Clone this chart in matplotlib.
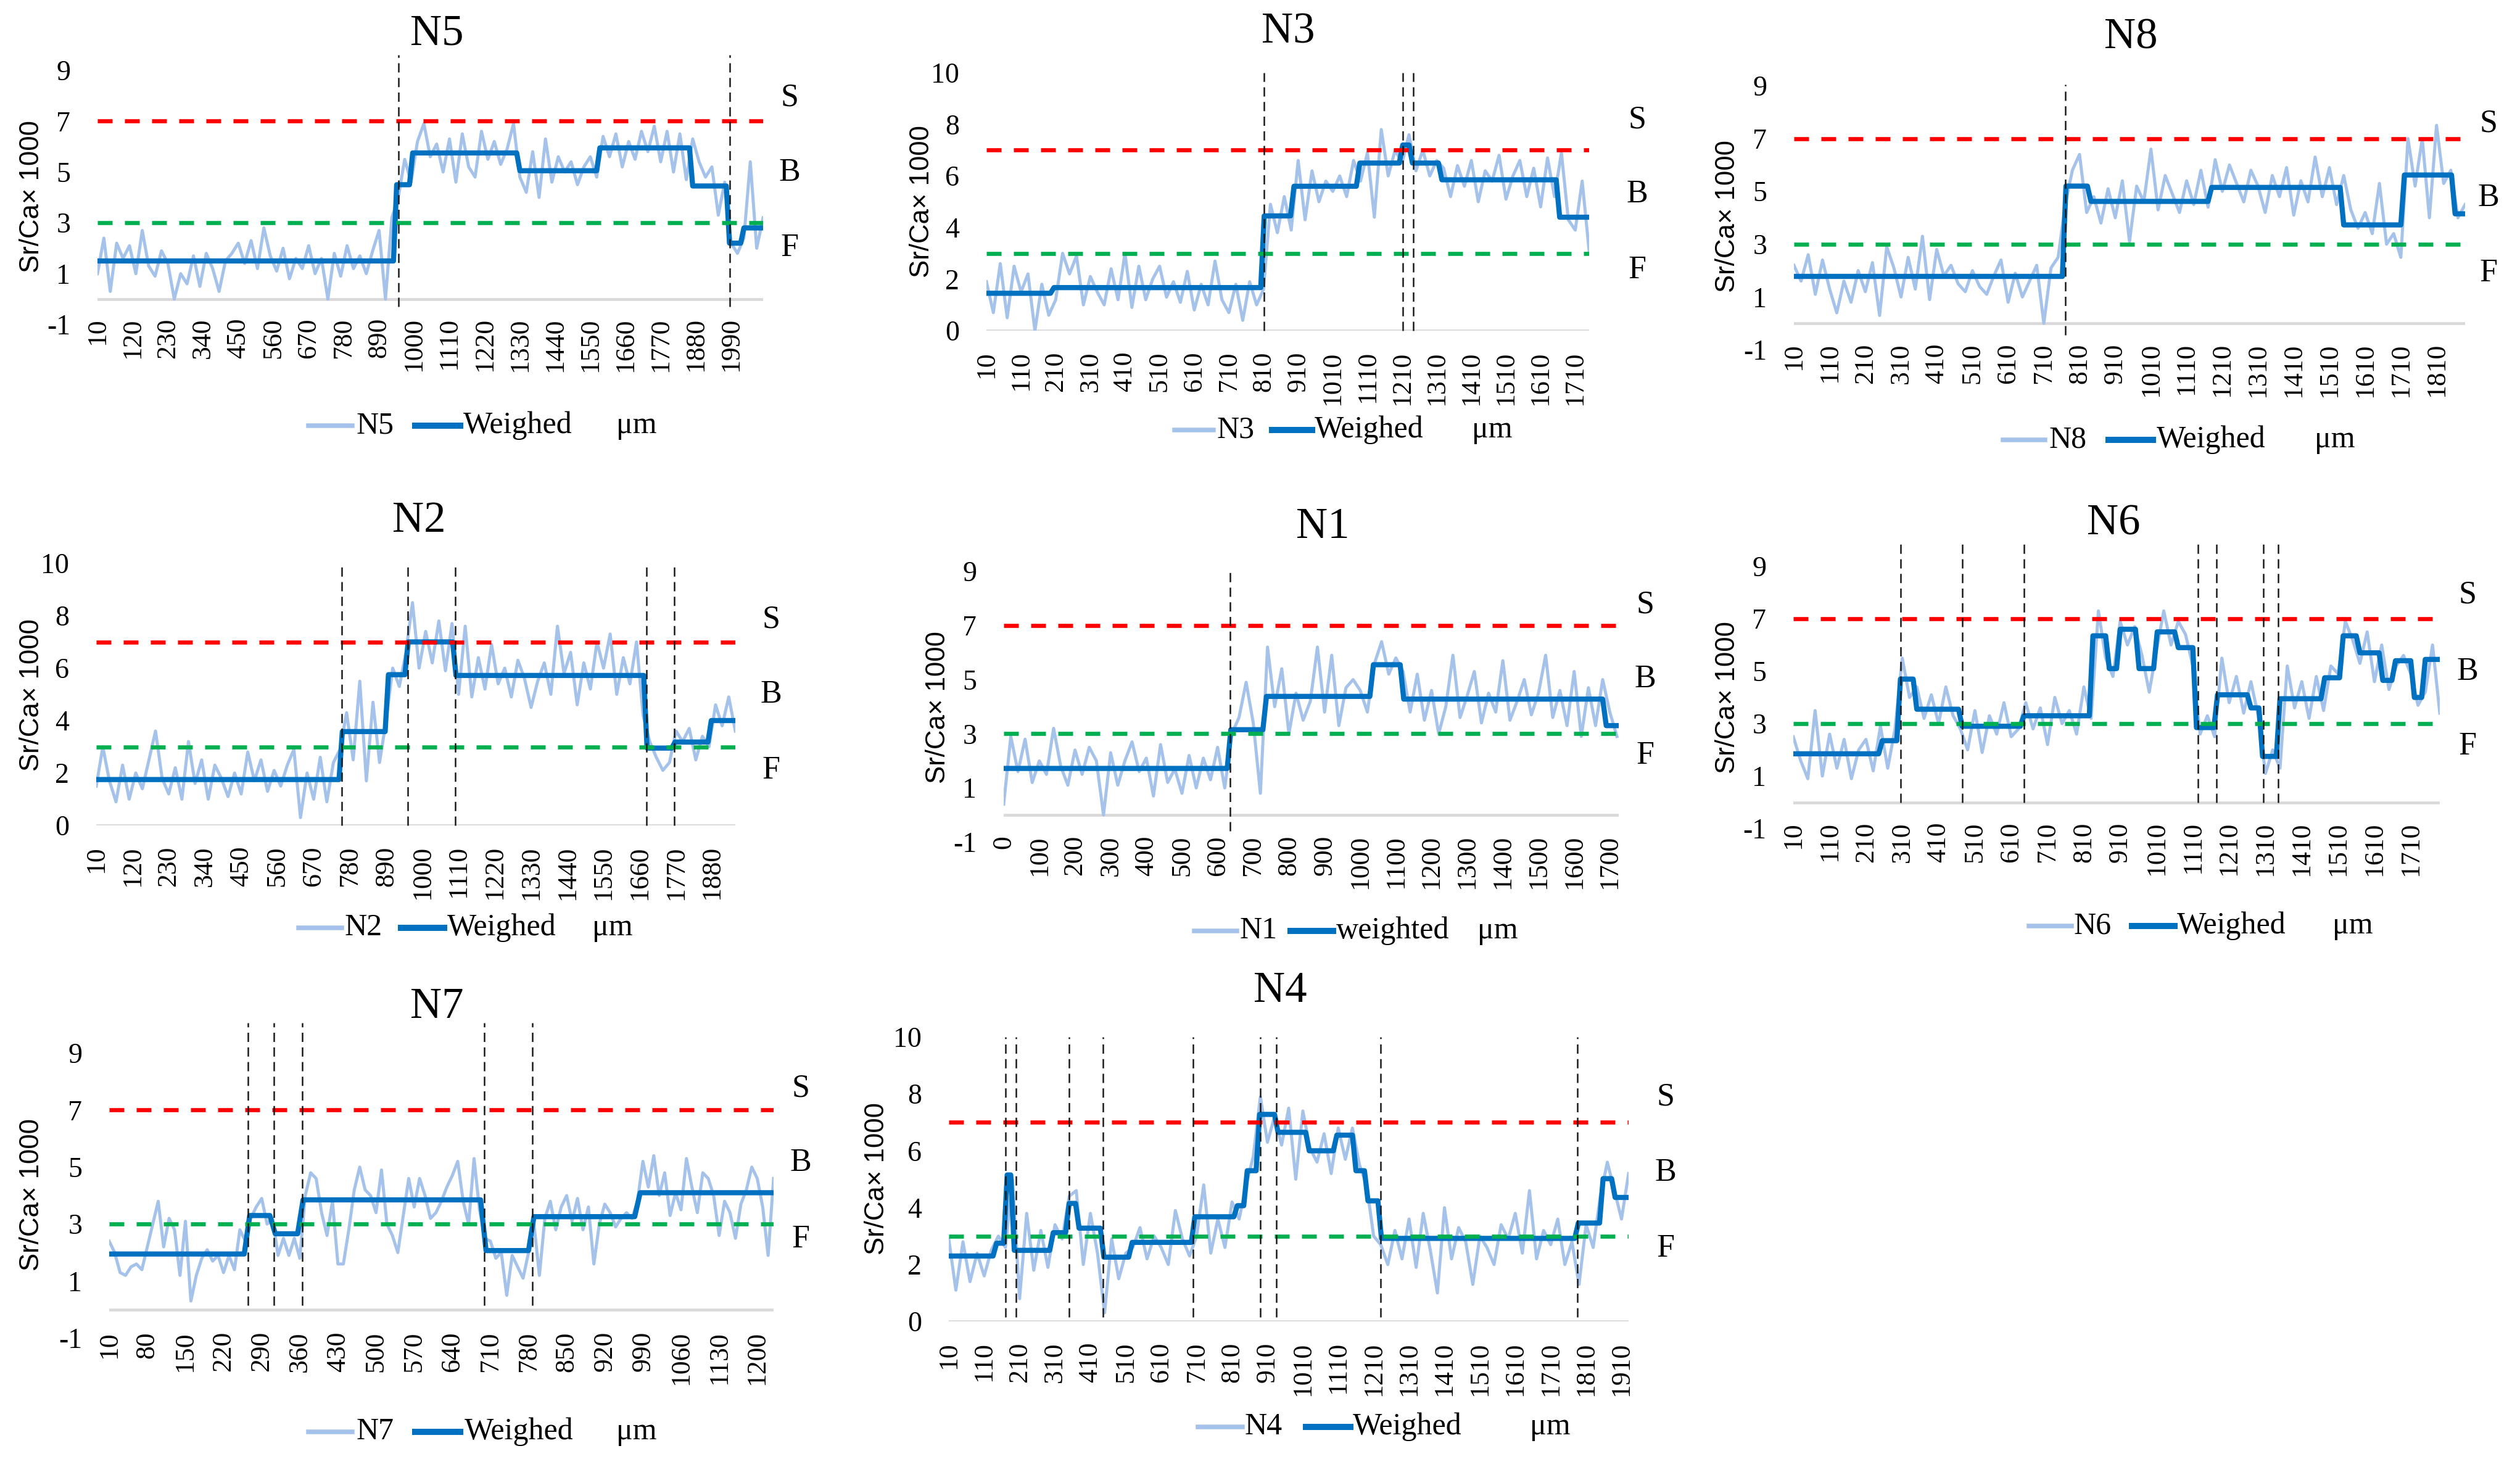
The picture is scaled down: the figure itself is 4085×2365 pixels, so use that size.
import numpy as np
import matplotlib
matplotlib.use("Agg")
import matplotlib.pyplot as plt
from matplotlib.lines import Line2D

W, H, DPI = 4086, 2365, 300
plt.rcParams['font.family'] = ['Liberation Serif', 'DejaVu Serif']

# ------------------------------------------------------------------ data
# raw Sr/Ca profiles, first position and spacing in um
n5_start, n5_step = 10, 20
n5_raw = [1.0, 2.4, 0.3, 2.2, 1.6, 2.1, 1.0, 2.7, 1.3, 0.9, 1.9, 1.4, 0.0, 1.0, 0.6, 1.7,
          0.5, 1.8, 1.2, 0.3, 1.5, 1.8, 2.2, 1.4, 2.3, 1.2, 2.8, 1.7, 1.1, 2.0, 0.8, 1.6,
          1.2, 2.1, 1.0, 1.6, 0.0, 1.8, 0.9, 2.1, 1.2, 1.7, 1.0, 1.9, 2.7, 0.0, 3.2,
          4.0, 5.5, 4.6, 6.2, 6.9, 5.6, 6.1, 5.0, 6.3, 4.6, 6.5, 5.2, 4.8, 6.6, 5.5, 6.2,
          5.3, 5.9, 6.9, 4.8,
          4.2, 5.8, 4.0, 6.3, 4.6, 5.6, 5.0, 5.4, 4.5, 5.2, 5.6, 4.8,
          6.4, 5.6, 6.5, 5.2, 6.2, 5.5, 6.6, 5.8, 6.8, 5.4, 6.6, 5.0, 6.5, 4.7, 6.3,
          5.4, 4.8, 5.2, 3.3, 4.6,
          2.2, 1.8, 2.4, 5.4, 2.0, 3.2]
n5_w_edges = [10, 945, 995, 1330, 1580, 1870, 1985, 2030]
n5_w_levels = [1.5, 4.5, 5.75, 5.05, 5.95, 4.45, 2.2, 2.8]
n5_end = 2090
n5_vlines = [950, 1985]
n5_xticks = list(range(10, 2000, 110))

n3_start, n3_step = 10, 20
n3_raw = [1.9, 0.7, 2.6, 0.5, 2.5, 1.5, 2.2, 0.0, 1.8, 0.6,
          1.2, 3.0, 2.2, 2.9, 1.0, 2.1, 1.5, 1.0, 2.4, 1.2, 3.0, 0.9, 2.5, 1.2, 2.0, 2.5,
          1.3, 1.9, 1.1, 2.3, 0.8, 1.8, 1.0, 2.7, 1.2, 0.7, 1.8, 0.4, 1.9, 1.0, 1.6,
          4.9, 3.8, 5.2, 3.9,
          6.6, 4.3, 6.2, 5.0, 5.8, 5.4, 6.0, 5.2, 6.6, 5.8,
          6.9, 4.4, 7.8, 6.0, 7.0, 6.5,
          7.6,
          6.2, 7.0, 6.0, 6.6, 6.3,
          5.2, 6.4, 5.6, 6.6, 5.0, 6.2, 5.8, 6.8, 5.1, 6.0, 6.6, 5.2, 6.3, 4.8, 6.7, 5.2, 6.9,
          4.3, 3.9, 5.8, 3.1]
n3_w_edges = [10, 205, 812, 898, 1088, 1212, 1240, 1325, 1665]
n3_w_levels = [1.45, 1.67, 4.45, 5.6, 6.5, 7.2, 6.5, 5.85, 4.4]
n3_end = 1750
n3_vlines = [812, 1212, 1242]
n3_xticks = list(range(10, 1800, 100))

n8_start, n8_step = 10, 20
n8_raw = [2.2, 1.6, 2.6, 1.1, 2.4, 1.3, 0.4, 1.6, 0.8, 2.0, 1.2, 2.3, 0.3, 2.9, 2.1, 1.0,
          2.5, 1.3, 3.3, 0.9, 2.8, 1.8, 2.2, 1.5, 1.2, 2.0, 1.4, 1.1, 1.8, 2.4, 0.8, 1.9,
          1.0, 1.6, 2.2, 0.0, 2.1, 2.5,
          4.5, 5.8, 6.4, 4.2,
          4.8, 3.8, 5.1, 4.0, 5.4, 3.1, 5.2, 4.6, 6.6, 4.3, 5.6, 4.9, 4.2, 5.4, 4.5, 5.8, 4.4,
          6.2, 5.0, 6.0, 5.3, 4.6, 5.8, 5.2, 4.2, 5.6, 4.8, 5.9, 4.1, 5.4, 4.6, 6.3, 4.8,
          5.9, 4.5, 5.6,
          4.3, 3.6, 4.2, 3.4, 5.3, 3.0, 3.4, 2.5,
          7.0, 5.2, 7.0, 4.0, 7.5, 5.3, 5.8,
          4.0, 4.5]
n8_w_edges = [10, 772, 842, 1180, 1550, 1720, 1862]
n8_w_levels = [1.78, 5.2, 4.62, 5.15, 3.73, 5.62, 4.15]
n8_end = 1890
n8_vlines = [770]
n8_xticks = list(range(10, 1900, 100))

n2_start, n2_step = 10, 20
n2_raw = [1.5, 3.0, 1.7, 0.9, 2.3, 1.0, 2.0, 1.4, 2.5, 3.6, 1.8, 1.2, 2.2, 1.0, 3.2, 1.6,
          2.5, 1.0, 2.3, 1.8, 1.1, 2.0, 1.2, 2.8, 1.7, 2.5, 1.3, 2.1, 1.5, 2.3, 2.9, 0.3,
          2.0, 1.0, 2.6, 0.9, 2.4, 2.9,
          4.3, 2.5, 5.5, 1.7, 4.7, 2.4, 4.0,
          6.0, 5.3, 6.6,
          8.5, 6.0, 7.4, 6.2, 7.8, 5.9, 7.7,
          5.0, 7.6, 4.9, 6.4, 5.2, 6.9, 5.4, 6.0, 4.9, 6.3, 5.6, 4.5, 5.5, 6.2, 5.0, 7.6,
          5.8, 6.6, 4.6, 6.2, 5.2, 7.0, 6.0, 7.3, 5.0, 6.4, 5.4, 7.0, 4.2,
          3.2, 2.6, 2.1, 2.4,
          3.6, 3.2, 3.7, 2.5, 3.4, 3.0,
          4.6, 3.8, 4.9, 3.6]
n2_w_edges = [10, 757, 897, 957, 1102, 1682, 1767, 1877]
n2_w_levels = [1.75, 3.58, 5.75, 7.0, 5.72, 2.95, 3.18, 4.0]
n2_end = 1950
n2_vlines = [755, 955, 1100, 1680, 1765]
n2_xticks = list(range(10, 1900, 110))

n1_start, n1_step = 0, 20
n1_raw = [0.4, 2.9, 1.6, 2.8, 1.2, 2.0, 1.5, 3.2, 1.8, 1.1, 2.4, 1.5, 2.5, 2.0, 0.0, 2.3,
          1.1, 2.0, 2.7, 1.6, 2.1, 0.7, 2.6, 1.2, 1.7, 0.8, 2.2, 1.0, 2.1, 1.3, 2.5, 1.0,
          3.0, 3.6, 4.9, 3.4, 0.8,
          6.2, 4.0, 5.4, 3.0, 4.5, 3.5, 4.2, 6.2, 3.8, 5.9, 3.3, 4.7, 5.0, 4.6, 3.8,
          5.6, 6.4, 5.2, 5.8, 5.3,
          3.8, 5.2, 3.5, 4.6, 3.0, 4.0, 5.9, 3.6, 4.4, 5.3, 3.4, 4.5, 3.8, 5.7, 3.5, 4.2,
          5.0, 3.7, 4.5, 5.9, 3.6, 4.6, 3.3, 5.3, 2.9, 4.7, 3.3, 5.0,
          3.8, 2.9]
n1_w_edges = [0, 637, 737, 1037, 1122, 1690]
n1_w_levels = [1.72, 3.15, 4.38, 5.55, 4.28, 3.3]
n1_end = 1725
n1_vlines = [635]
n1_xticks = list(range(0, 1800, 100))

n6_start, n6_step = 10, 20
n6_raw = [2.5, 1.6, 0.9, 3.5, 1.0, 2.6, 1.3, 2.4, 0.9, 2.0, 2.4, 1.2, 2.9,
          1.3, 2.8,
          5.5, 4.0, 4.4,
          3.2, 4.1, 3.0, 4.4, 3.3, 2.8,
          2.0, 3.5, 1.9, 3.3, 2.6, 3.8, 2.5, 2.8,
          3.8, 2.8, 3.6, 2.2, 4.0, 3.0, 3.5, 2.6, 4.4, 3.2,
          7.3, 5.5, 4.8,
          6.9, 6.0, 6.7,
          5.6, 4.2, 5.8,
          7.3, 6.0, 6.9,
          6.4, 5.2,
          2.6, 3.3, 2.5,
          5.5, 3.8, 4.8, 3.4, 4.6,
          3.3,
          1.1, 2.0, 1.3,
          5.2, 3.6, 4.6, 3.2, 4.8, 3.5,
          5.2, 4.9, 6.9,
          6.2, 5.3,
          6.5, 4.6, 6.0,
          4.3, 5.2,
          5.6, 4.9,
          3.7, 4.2,
          6.0, 3.4]
n6_w_edges = [10, 255, 305, 350, 475, 645, 835, 880, 910, 962, 1012, 1070, 1120, 1178,
              1270, 1302, 1350, 1473, 1524, 1570, 1633, 1668, 1720, 1750]
n6_w_levels = [1.85, 2.35, 4.7, 3.55, 2.9, 3.3, 6.35, 5.1, 6.6, 5.1, 6.5, 5.9, 2.85, 4.1,
               3.6, 1.75, 3.95, 4.75, 6.35, 5.7, 4.65, 5.4, 4.0, 5.45]
n6_end = 1790
n6_vlines = [305, 475, 645, 1125, 1175, 1305, 1345]
n6_xticks = list(range(10, 1800, 100))

n7_start, n7_step = 10, 10
n7_raw = [2.4, 2.0, 1.3, 1.2, 1.5, 1.6, 1.4, 2.2, 3.0, 3.8, 2.2, 3.2, 2.8, 1.2, 3.1, 0.3,
          1.2, 1.8, 2.1, 1.7, 1.9, 1.3, 1.9, 1.4, 2.8, 2.4, 3.2, 3.6, 3.9, 3.0, 3.2, 1.9,
          2.5, 1.9, 2.5, 1.8, 4.0, 4.8, 4.6, 3.4, 2.6, 3.8, 1.6, 1.6, 2.8, 4.2, 5.0, 4.2,
          4.0, 3.4, 4.9, 3.0, 2.6, 2.0, 3.3, 4.6, 3.6, 4.6, 4.0, 3.2, 3.4, 3.8, 4.3, 4.7,
          5.2, 3.8, 3.0, 5.3, 3.5, 2.5, 2.4, 1.8, 2.0, 0.5, 1.9, 1.5, 1.1, 2.0, 3.0, 1.2,
          3.2, 3.8, 2.8, 3.6, 4.0, 3.1, 3.9, 2.8, 3.6, 1.6, 3.0, 3.7, 3.4, 2.9, 3.2, 3.4,
          3.2, 3.8, 5.2, 4.3, 5.4, 4.0, 4.8, 3.3, 4.1, 3.5, 5.3, 4.3, 3.4, 4.8, 4.6, 4.0,
          2.6, 3.8, 3.4, 2.5, 3.7, 4.2, 5.0, 4.6, 3.6, 1.9, 4.6]
n7_w_edges = [10, 268, 315, 366, 702, 790, 985]
n7_w_levels = [1.95, 3.3, 2.66, 3.85, 2.07, 3.26, 4.1]
n7_end = 1230
n7_vlines = [265, 313, 364, 699, 787]
n7_xticks = list(range(10, 1210, 70))

n4_start, n4_step = 10, 20
n4_raw = [2.9, 1.1, 2.8, 1.4, 2.4, 1.6, 2.5,
          3.0, 2.6,
          5.0,
          0.8, 3.8, 1.8, 3.2, 1.9,
          3.4, 2.9,
          4.4, 4.6,
          2.0, 3.8, 2.4,
          0.3, 2.9, 1.5, 2.4,
          2.6, 3.3, 2.2, 3.0, 2.6, 2.0, 3.9, 2.9, 2.3,
          3.0, 4.8, 2.4, 3.6, 2.6, 4.2,
          3.6, 4.8,
          5.8,
          7.9, 6.3, 7.2,
          6.2, 7.5, 5.0, 7.4,
          6.1, 5.6, 6.6, 5.2,
          6.8, 5.7, 6.8,
          5.5, 4.8,
          3.0,
          2.7, 2.0, 3.2, 2.2, 3.6, 1.9, 3.8, 2.5, 1.0, 4.0, 2.2, 3.3, 2.8, 1.3, 3.0, 2.6,
          2.0, 3.4, 2.9, 3.8, 2.4, 4.6, 2.2, 3.2, 2.7, 3.6, 2.0, 2.8,
          1.3, 3.4, 2.6, 4.4,
          5.6, 4.6,
          3.6, 5.2]
n4_w_edges = [10, 145, 175, 195, 305, 350, 378, 448, 528, 705, 825, 853, 888, 940, 1028,
              1106, 1160, 1194, 1232, 1788, 1858, 1892]
n4_w_levels = [2.3, 2.75, 5.15, 2.5, 3.12, 4.15, 3.28, 2.26, 2.78, 3.68, 4.07, 5.3, 7.28,
               6.65, 6.0, 6.55, 5.3, 4.24, 2.92, 3.46, 5.02, 4.36]
n4_end = 1930
n4_vlines = [170, 200, 350, 445, 700, 890, 935, 1230, 1785]
n4_xticks = list(range(10, 1920, 100))

SAL_F, SAL_S = 3, 7   # freshwater / seawater thresholds

# ------------------------------------------------------------------ layout (pixel coords)
panels = [
    dict(name='N5', raw=n5_raw, start=n5_start, step=n5_step, edges=n5_w_edges, levels=n5_w_levels,
         end=n5_end, vl=n5_vlines, xt=n5_xticks, wl='Weighed',
         ylim=(-1, 9), yt=[-1, 1, 3, 5, 7, 9], box=(158, 114, 1237, 526), vspan=(-0.3, 9.6),
         title=(708, 55), ylab=(52, 318), sbf=(1280, 159, 280, 402),
         leg=(690, 500, 571, 578, 673, 746, 751, 999)),
    dict(name='N3', raw=n3_raw, start=n3_start, step=n3_step, edges=n3_w_edges, levels=n3_w_levels,
         end=n3_end, vl=n3_vlines, xt=n3_xticks, wl='Weighed',
         ylim=(0, 10), yt=[0, 2, 4, 6, 8, 10], box=(1599, 118, 2576, 536), vspan=(0, 10),
         title=(2088, 52), ylab=(1495, 327), sbf=(2654, 194, 315, 438),
         leg=(697, 1904, 1967, 1973, 2062, 2127, 2131, 2386)),
    dict(name='N8', raw=n8_raw, start=n8_start, step=n8_step, edges=n8_w_edges, levels=n8_w_levels,
         end=n8_end, vl=n8_vlines, xt=n8_xticks, wl='Weighed',
         ylim=(-1, 9), yt=[-1, 1, 3, 5, 7, 9], box=(2908, 139, 3996, 567), vspan=(-0.45, 9.05),
         title=(3454, 61), ylab=(2801, 351), sbf=(4034, 200, 321, 443),
         leg=(713, 3247, 3315, 3322, 3418, 3490, 3496, 3752)),
    dict(name='N2', raw=n2_raw, start=n2_start, step=n2_step, edges=n2_w_edges, levels=n2_w_levels,
         end=n2_end, vl=n2_vlines, xt=n2_xticks, wl='Weighed',
         ylim=(0, 10), yt=[0, 2, 4, 6, 8, 10], box=(156, 913, 1192, 1338), vspan=(0, 10),
         title=(679, 844), ylab=(52, 1126), sbf=(1250, 1005, 1126, 1249),
         leg=(1504, 484, 554, 558, 650, 720, 725, 960)),
    dict(name='N1', raw=n1_raw, start=n1_start, step=n1_step, edges=n1_w_edges, levels=n1_w_levels,
         end=n1_end, vl=n1_vlines, xt=n1_xticks, wl='weighted',
         ylim=(-1, 9), yt=[-1, 1, 3, 5, 7, 9], box=(1627, 926, 2624, 1365), vspan=(-0.6, 9.0),
         title=(2144, 854), ylab=(1521, 1146), sbf=(2667, 980, 1101, 1225),
         leg=(1509, 1936, 2005, 2010, 2092, 2161, 2166, 2395)),
    dict(name='N6', raw=n6_raw, start=n6_start, step=n6_step, edges=n6_w_edges, levels=n6_w_levels,
         end=n6_end, vl=n6_vlines, xt=n6_xticks, wl='Weighed',
         ylim=(-1, 9), yt=[-1, 1, 3, 5, 7, 9], box=(2907, 918, 3955, 1343), vspan=(0.0, 9.85),
         title=(3426, 849), ylab=(2801, 1131), sbf=(4000, 965, 1089, 1210),
         leg=(1501, 3289, 3358, 3362, 3456, 3525, 3529, 3781)),
    dict(name='N7', raw=n7_raw, start=n7_start, step=n7_step, edges=n7_w_edges, levels=n7_w_levels,
         end=n7_end, vl=n7_vlines, xt=n7_xticks, wl='Weighed',
         ylim=(-1, 9), yt=[-1, 1, 3, 5, 7, 9], box=(177, 1707, 1254, 2169), vspan=(0.15, 10.05),
         title=(708, 1632), ylab=(52, 1937), sbf=(1298, 1764, 1885, 2009),
         leg=(2321, 500, 571, 578, 673, 746, 753, 999)),
    dict(name='N4', raw=n4_raw, start=n4_start, step=n4_step, edges=n4_w_edges, levels=n4_w_levels,
         end=n4_end, vl=n4_vlines, xt=n4_xticks, wl='Weighed',
         ylim=(0, 10), yt=[0, 2, 4, 6, 8, 10], box=(1538, 1681, 2640, 2142), vspan=(0.15, 10.0),
         title=(2075, 1606), ylab=(1422, 1911), sbf=(2700, 1779, 1901, 2024),
         leg=(2313, 1942, 2014, 2018, 2117, 2189, 2193, 2480)),
]

RAW_C = '#a4c2ea'
W_C = '#0070c0'
RED = '#ff0000'
GREEN = '#00b050'
GRAY = '#d9d9d9'


def fx(x):
    return x / W


def fy(y):
    return 1 - y / H


def weighted_line(edges, levels, end, ramp=10):
    xs, ys = [], []
    for i, (e, lv) in enumerate(zip(edges, levels)):
        stop = edges[i + 1] - ramp if i + 1 < len(edges) else end
        xs += [e, stop]
        ys += [lv, lv]
    return xs, ys


fig = plt.figure(figsize=(W / DPI, H / DPI), dpi=DPI)
fig.patch.set_facecolor('white')

for p in panels:
    l, t, r, b = p['box']
    ax = fig.add_axes([fx(l), fy(b), (r - l) / W, (b - t) / H])
    ax.set_facecolor('none')
    raw = np.asarray(p['raw'], dtype=float)
    xr = p['start'] + p['step'] * np.arange(len(raw))
    x0 = p['start']
    ax.set_xlim(x0, p['end'])
    ax.set_ylim(*p['ylim'])
    # zero line
    ax.axhline(0, color=GRAY, lw=1.1, zorder=1)
    ax.plot(xr, raw, color=RAW_C, lw=1.2, zorder=2, solid_joinstyle='round')
    wx, wy = weighted_line(p['edges'], p['levels'], p['end'])
    ax.plot(wx, wy, color=W_C, lw=2.0, zorder=3, solid_joinstyle='round')
    ax.axhline(SAL_S, color=RED, lw=1.6, dashes=(3.6, 3.0), zorder=4)
    ax.axhline(SAL_F, color=GREEN, lw=1.6, dashes=(3.6, 3.0), zorder=4)
    for v in p['vl']:
        ax.plot([v, v], list(p['vspan']), color='#1a1a1a', lw=0.6, dashes=(6, 3.5),
                zorder=5, clip_on=False)
    for s in ax.spines.values():
        s.set_visible(False)
    ax.set_yticks(p['yt'])
    ax.set_yticklabels([str(v) for v in p['yt']], fontsize=11)
    ax.set_xticks(p['xt'])
    ax.set_xticklabels([str(v) for v in p['xt']], rotation=90, fontsize=10.5,
                       va='top', ha='center')
    xpad = -2.6 if p['ylim'][0] < 0 else 8.0
    ax.tick_params(axis='x', length=0, pad=xpad)
    ax.tick_params(axis='y', length=0, pad=10.5)

    # title
    tx, ty = p['title']
    fig.text(fx(tx), fy(ty), p['name'], ha='center', va='center', fontsize=17)
    # y label
    yx, yy = p['ylab']
    fig.text(fx(yx), fy(yy), 'Sr/Ca\u00d7 1000', rotation=90, ha='center', va='center',
             fontsize=10.5, family=['Liberation Sans', 'DejaVu Sans'])
    # S/B/F
    sx, s_y, b_y, f_y = p['sbf']
    for lab, yy2 in (('S', s_y), ('B', b_y), ('F', f_y)):
        fig.text(fx(sx), fy(yy2), lab, ha='center', va='center', fontsize=12.5)
    # legend
    ly, a0, a1, an, d0, d1, dn, um = p['leg']
    fig.add_artist(Line2D([fx(a0), fx(a1)], [fy(ly), fy(ly)], color=RAW_C, lw=1.8,
                          transform=fig.transFigure))
    fig.add_artist(Line2D([fx(d0), fx(d1)], [fy(ly), fy(ly)], color=W_C, lw=2.4,
                          transform=fig.transFigure))
    fig.text(fx(an), fy(ly), p['name'], ha='left', va='center', fontsize=12)
    fig.text(fx(dn), fy(ly), p['wl'], ha='left', va='center', fontsize=12)
    fig.text(fx(um), fy(ly), '\u03bcm', ha='left', va='center', fontsize=12)

fig.savefig('out.png', dpi=DPI, facecolor='white')
